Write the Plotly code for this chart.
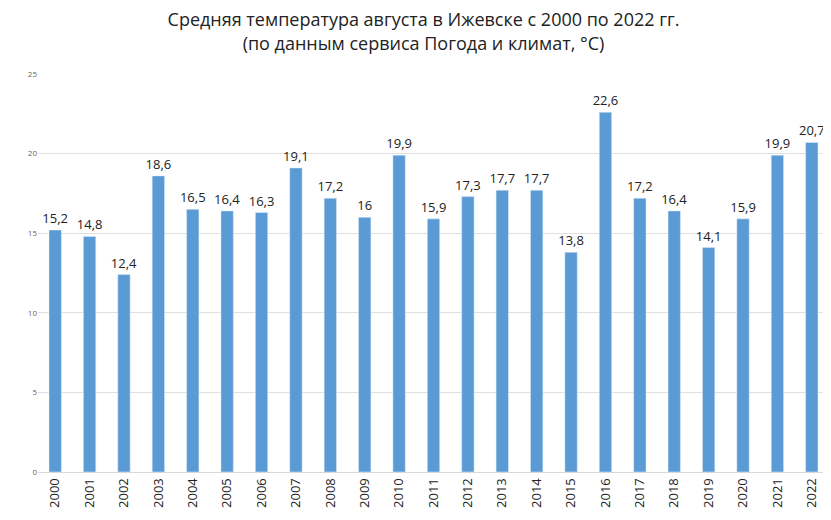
import plotly.graph_objects as go

years = [str(y) for y in range(2000, 2023)]
temps = [15.2, 14.8, 12.4, 18.6, 16.5, 16.4, 16.3, 19.1, 17.2, 16, 19.9, 15.9,
         17.3, 17.7, 17.7, 13.8, 22.6, 17.2, 16.4, 14.1, 15.9, 19.9, 20.7]
labels = [f'{t:g}'.replace('.', ',') for t in temps]

fig = go.Figure()
fig.add_trace(go.Bar(x=years, y=temps, text=labels, textposition='outside',
                     textfont=dict(size=13, color='#222'), cliponaxis=False,
                     marker_color='#5B9BD5'))

fig.update_layout(
    width=831, height=520,
    plot_bgcolor='white', paper_bgcolor='white',
    font=dict(family='Open Sans, sans-serif'),
    title=dict(text='Средняя температура августа в Ижевске с 2000 по 2022 гг.<br>(по данным сервиса Погода и климат, °С)',
               x=0.5, xanchor='center', y=0.965, yanchor='top',
               font=dict(size=18, color='#222')),
    margin=dict(l=30, r=10, t=66, b=56),
    bargap=0.64,
    uniformtext=dict(minsize=13, mode='show'),
    showlegend=False,
    xaxis=dict(tickangle=-90, tickfont=dict(size=13, color='#222'),
               showline=True, linecolor='#d9d9d9', ticks=''),
    yaxis=dict(range=[0, 25], dtick=5, tickfont=dict(size=8, color='#666'),
               showgrid=True, gridcolor='#e0e0e0', zeroline=False),
)

fig.write_html("out.html")
